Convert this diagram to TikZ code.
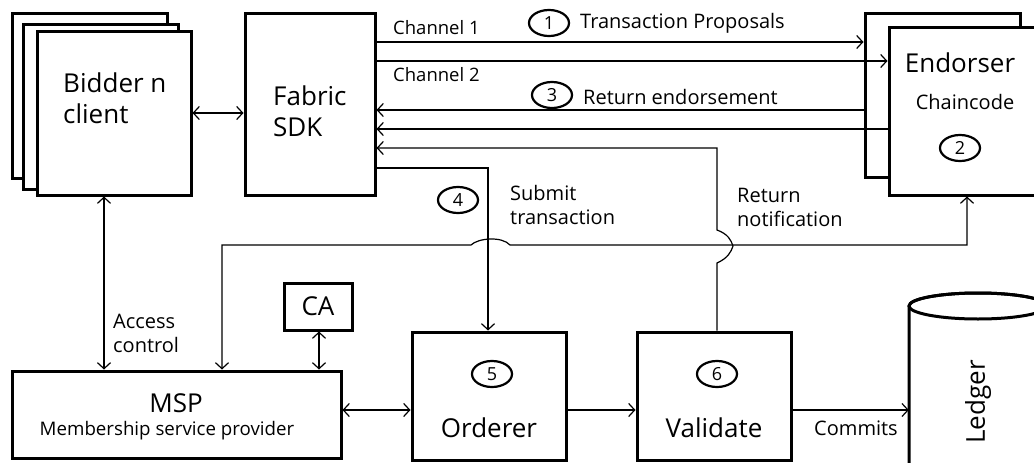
\documentclass[tikz,border=0pt]{standalone}
\usepackage{fontspec}
\setmainfont{Open Sans}
\usetikzlibrary{arrows.meta,shapes.geometric}
\begin{document}
\begin{tikzpicture}[x=1pt,y=-1pt,
 box/.style={draw, line width=3pt, fill=white, inner sep=0pt},
 conn/.style={line width=1.2pt},
 arr/.style={conn, -{Straight Barb[length=6pt,width=13pt,line width=1.2pt]}},
 darr/.style={conn, {Straight Barb[length=6pt,width=13pt,line width=1.2pt]}-{Straight Barb[length=6pt,width=13pt,line width=1.2pt]}},
 num/.style={draw, ellipse, line width=2.2pt, minimum width=40pt, minimum height=26pt, inner sep=0pt, font=\fontsize{18}{18}\selectfont},
 big/.style={font=\fontsize{26}{31}\selectfont, inner sep=0pt},
 mid/.style={font=\fontsize{20}{24}\selectfont, inner sep=0pt},
 sml/.style={font=\fontsize{18.5}{20}\selectfont, inner sep=0pt},
]
\useasboundingbox (0,0) rectangle (1034,463);
\clip (0,0) rectangle (1034,463);
% Bidder stack
\node[box, minimum width=155pt, minimum height=165pt] (b1) at (89.5,95.5) {};
\node[box, minimum width=155pt, minimum height=165pt] (b2) at (100.5,106.5) {};
\node[box, minimum width=154pt, minimum height=164pt] (b3) at (114,113) {};
\node[big, anchor=west, align=left] (bt) at (63,98) {Bidder n\\client};
% SDK
\node[box, minimum width=130pt, minimum height=182pt] (sdk) at (310,104) {};
\node[big, anchor=west, align=left] (st) at (273,111) {Fabric\\SDK};
% Endorser
\node[box, minimum width=155pt, minimum height=164pt] (e1) at (942.5,95) {};
\node[box, minimum width=156pt, minimum height=168pt] (e2) at (967,111) {};
\node[big] (et) at (960,63) {Endorser};
\node[mid] (ct) at (965,102) {Chaincode};
\node[num] (n2) at (960,148) {2};
% MSP, CA
\node[box, minimum width=329pt, minimum height=87pt] (msp) at (176.5,414.5) {};
\node[big] (mt) at (176,403) {MSP};
\node[mid, font=\fontsize{18.7}{22}\selectfont] (mt2) at (167,431) {Membership service provider};
\node[box, minimum width=68pt, minimum height=47pt] (ca) at (318,306.5) {};
\node[big] (cat) at (318,306.5) {CA};
% Orderer, Validate
\node[box, minimum width=154pt, minimum height=128pt] (ord) at (489,396) {};
\node[num] (n5) at (492,374) {5};
\node[big] (ot) at (489,428) {Orderer};
\node[box, minimum width=154pt, minimum height=128pt] (val) at (714,396) {};
\node[num] (n6) at (717,374) {6};
\node[big] (vt) at (714,428) {Validate};
% Ledger
\node[minimum width=138pt, minimum height=170pt, inner sep=0pt] (led) at (978,390) {};
\draw[line width=3pt, fill=white] (909,306) -- (909,480) -- (1047,480) -- (1047,306) arc[start angle=0, end angle=-180, x radius=69, y radius=13];
\draw[line width=3pt] (978,306) ellipse[x radius=69, y radius=13];
\node[big, rotate=90] (lt) at (978,402) {Ledger};
% level coordinates
\coordinate (y42) at (0,42);
\coordinate (y61) at (0,61);
\coordinate (y110) at (0,110);
\coordinate (y129) at (0,129);
\coordinate (y148) at (0,148);
\coordinate (y168) at (0,168);
\coordinate (y245) at (0,245);
\coordinate (x104) at (104,0);
\coordinate (x222) at (222,0);
\coordinate (x319) at (319,0);
\coordinate (x488) at (488,0);
\coordinate (x717) at (717,0);
\coordinate (x967) at (967,0);
\coordinate (y410) at (0,410);
% connectors
\draw[darr] (b3.east) -- (b3.east -| sdk.west);
\draw[arr] (sdk.east |- y42) -- (e1.west |- y42);
\draw[arr] (sdk.east |- y61) -- (e2.west |- y61);
\draw[arr] (e1.west |- y110) -- (sdk.east |- y110);
\draw[arr] (e2.west |- y129) -- (sdk.east |- y129);
\draw[arr] (val.north -| x717) -- (717,263) .. controls (728,258) and (731,252) .. (733,246) .. controls (731,240) and (728,234) .. (717,230) -- (x717 |- y148) -- (sdk.east |- y148);
\draw[arr] (sdk.east |- y168) -- (x488 |- y168) -- (ord.north -| x488);
\draw[darr] (msp.north -| x222) -- (x222 |- y245) -- (471,245) .. controls (478,238) and (502,236) .. (510,245) -- (x967 |- y245) -- (e2.south -| x967);
\draw[darr] (b3.south -| x104) -- (msp.north -| x104);
\draw[darr] (ca.south -| x319) -- (msp.north -| x319);
\draw[darr] (msp.east |- y410) -- (ord.west |- y410);
\draw[arr] (ord.east |- y410) -- (val.west |- y410);
\draw[arr] (val.east |- y410) -- (led.west |- y410);
% labels
\node[sml, anchor=west] (ch1) at (393,28) {Channel 1};
\node[sml, anchor=west] (ch2) at (393,75) {Channel 2};
\node[num] (n1) at (549,23) {1};
\node[mid, anchor=west] (tp) at (580,23) {Transaction Proposals};
\node[num] (n3) at (552,95) {3};
\node[mid, anchor=west] (re) at (583,97) {Return endorsement};
\node[num] (n4) at (458,200) {4};
\node[mid, anchor=west, align=left] (sub) at (510,205) {Submit\\transaction};
\node[mid, anchor=west, align=left] (rn) at (737,207) {Return\\notification};
\node[mid, anchor=west, align=left] (ac) at (113,333) {Access\\control};
\node[mid] (cm) at (856,428) {Commits};
\end{tikzpicture}
\end{document}
